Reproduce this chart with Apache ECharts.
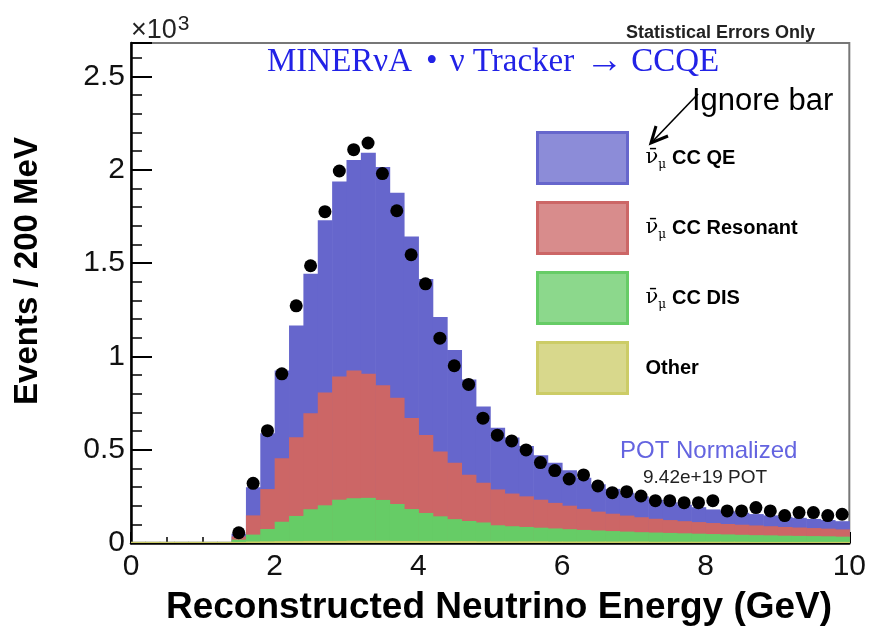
<!DOCTYPE html>
<html><head><meta charset="utf-8">
<script src="https://cdn.jsdelivr.net/npm/echarts@6/dist/echarts.min.js"></script>
<style>html,body{margin:0;padding:0;background:#fff}#c{width:869px;height:632px}</style>
</head><body><div id="c"></div>
<script>
// ---- data (Events / 200 MeV) ----
const binEdges = [0,0.2,0.4,0.6,0.8,1.0,1.2,1.4,1.6,1.8,2.0,2.2,2.4,2.6,2.8,3.0,3.2,3.4,3.6,3.8,4.0,4.2,4.4,4.6,4.8,5.0,5.2,5.4,5.6,5.8,6.0,6.2,6.4,6.6,6.8,7.0,7.2,7.4,7.6,7.8,8.0,8.2,8.4,8.6,8.8,9.0,9.2,9.4,9.6,9.8,10.0];
const qe = [0,0,0,0,0,0,0,15,151,299,471,599,747,923,1046,1129,1185,1171,1100,973,836,722,604,510,408,331,300,270,238,215,190,167,147,133,123,112,102,95,88,80,73,68,64,61,58,55,52,49,46,44];
const resonant = [0,0,0,0,0,0,0,17,103,214,340,422,515,605,660,684,665,614,569,488,418,347,302,248,213,192,175,164,150,137,126,113,101,93,86,80,74,69,65,62,59,56,54,52,49,47,45,43,41,39];
const dis = [0,0,0,0,0,0,0,12,37,66,104,135,170,191,221,228,230,219,198,171,151,133,118,108,101,86,81,77,73,70,66,62,59,56,53,50,49,47,45,43,41,39,37,36,35,33,32,31,30,28];
const other = [6,6,6,6,6,6,6,6,8,9,10,10,11,11,11,12,12,12,11,11,10,10,10,10,9,9,9,9,9,8,8,8,8,8,8,8,7,7,7,7,7,7,7,6,6,6,6,6,6,6];
const dataX = [1.5,1.7,1.9,2.1,2.3,2.5,2.7,2.9,3.1,3.3,3.5,3.7,3.9,4.1,4.3,4.5,4.7,4.9,5.1,5.3,5.5,5.7,5.9,6.1,6.3,6.5,6.7,6.9,7.1,7.3,7.5,7.7,7.9,8.1,8.3,8.5,8.7,8.9,9.1,9.3,9.5,9.7,9.9];
const dataY = [55,320,602,907,1271,1486,1776,1994,2108,2144,1980,1781,1545,1389,1098,950,850,669,578,547,499,431,388,343,365,306,270,275,252,227,227,216,216,227,172,172,190,172,147,163,163,147,154];
const seriesNames = ['CC QE','CC Resonant','CC DIS','Other'];
const seriesColors = ['#6666cc','#cc6666','#66cc66','#cccc66'];
const xTickLabels = ['0','2','4','6','8','10'];
const yTickLabels = ['0','0.5','1','1.5','2','2.5'];

// stacking order bottom -> top: other, dis, resonant, qe
const comps = [other, dis, resonant, qe];
const compNames = ['Other','CC DIS','CC Resonant','CC QE'];
const compColors = ['#cccc66','#66cc66','#cc6666','#6666cc'];

function cumulativeData(k) {
  const out = [];
  for (let i = 0; i < binEdges.length - 1; i++) {
    let top = 0;
    for (let j = 0; j <= k; j++) top += comps[j][i];
    out.push([binEdges[i], binEdges[i + 1], 0, top]);
  }
  return out;
}

function makePattern(color) {
  const c = document.createElement('canvas');
  c.width = 2; c.height = 2;
  const g = c.getContext('2d');
  g.fillStyle = color; g.fillRect(0, 0, 2, 2);
  g.fillStyle = '#ffffff'; g.fillRect(1, 0, 1, 1);
  return { image: c, repeat: 'repeat' };
}

const chart = echarts.init(document.getElementById('c'), null, { renderer: 'canvas' });

const histSeries = [];
for (let k = comps.length - 1; k >= 0; k--) {
  const color = compColors[k];
  histSeries.push({
    type: 'custom',
    name: compNames[k],
    coordinateSystem: 'cartesian2d',
    z: 2 + (comps.length - k),
    itemStyle: { color: color },
    encode: { x: [0, 1], y: [2, 3] },
    data: cumulativeData(k),
    renderItem: function (params, api) {
      const top = api.value(3);
      if (top <= 0) return null;
      const p0 = api.coord([api.value(0), top]);
      const p1 = api.coord([api.value(1), 0]);
      return {
        type: 'rect',
        shape: { x: p0[0], y: p0[1], width: p1[0] - p0[0] + 0.6, height: p1[1] - p0[1] },
        style: { fill: color }
      };
    }
  });
}

const sans = '"Liberation Sans", Arial, sans-serif';
const serif = '"Liberation Serif", "DejaVu Serif", serif';

const option = {
  animation: false,
  backgroundColor: '#ffffff',
  grid: { left: 131, right: 17, top: 43, bottom: 89, show: true, borderColor: '#777', borderWidth: 2, backgroundColor: 'transparent' },
  xAxis: {
    type: 'value', min: 0, max: 10, interval: 2,
    axisLine: { show: true, onZero: false, lineStyle: { color: '#000', width: 2.5 } },
    axisTick: { show: true, inside: true, length: 11, lineStyle: { color: '#000', width: 2 } },
    minorTick: { show: true, splitNumber: 4, length: 6, lineStyle: { color: '#000', width: 1.5 } },
    axisLabel: { fontSize: 30, color: '#111', margin: 9, fontFamily: sans,
      formatter: v => xTickLabels[Math.round(v / 2)] },
    splitLine: { show: false }, minorSplitLine: { show: false }
  },
  yAxis: [
    {
      type: 'value', min: 0, max: 2680, interval: 500, position: 'left',
      axisLine: { show: true, onZero: false, lineStyle: { color: '#000', width: 2.5 } },
      axisTick: { show: true, inside: true, length: 21, lineStyle: { color: '#000', width: 2 } },
      axisLabel: { fontSize: 30, color: '#111', margin: 6, fontFamily: sans,
        formatter: v => (v % 500 === 0 ? yTickLabels[v / 500] : '') },
      splitLine: { show: false }
    },
    {
      type: 'value', min: 0, max: 2680, interval: 100, position: 'left', offset: 0,
      axisLine: { show: false },
      axisTick: { show: true, inside: true, length: 11, lineStyle: { color: '#000', width: 1.5 } },
      axisLabel: { show: false },
      splitLine: { show: false }
    }
  ],
  legend: {
    orient: 'vertical', left: 536, top: 131, padding: 0,
    itemWidth: 90, itemHeight: 51, itemGap: 16,
    icon: 'rect',
    data: seriesNames.map((n, i) => ({
      name: n,
      itemStyle: { color: makePattern(seriesColors[i]), borderColor: seriesColors[i], borderWidth: 3 }
    })),
    formatter: function (name) {
      if (name === 'Other') return '{o|Other}';
      return '{nu|\u03BD\u0304}{mu|\u03BC}{t|' + name + '}';
    },
    textStyle: {
      color: '#000', lineHeight: 30,
      rich: {
        nu: { fontFamily: '"DejaVu Serif", "Liberation Serif", serif', fontSize: 21, color: '#000', padding: [0, 0, 0, 13] },
        mu: { fontFamily: '"DejaVu Serif", "Liberation Serif", serif', fontSize: 12, color: '#000', padding: [14, 0, 0, 0] },
        t: { fontFamily: sans, fontWeight: 'bold', fontSize: 20, color: '#000', padding: [0, 0, 0, 6] },
        o: { fontFamily: sans, fontWeight: 'bold', fontSize: 20, color: '#000', padding: [0, 0, 0, 13] }
      }
    },
    selectedMode: false
  },
  graphic: [
    { type: 'text', x: 28, y: 271, rotation: Math.PI / 2, z: 50,
      style: { text: 'Events / 200 MeV', fontFamily: sans, fontWeight: 'bold', fontSize: 33, fill: '#000', align: 'center', verticalAlign: 'middle' } },
    { type: 'text', x: 499, y: 608, z: 50,
      style: { text: 'Reconstructed Neutrino Energy (GeV)', fontFamily: sans, fontWeight: 'bold', fontSize: 37, fill: '#000', align: 'center', verticalAlign: 'middle' } },
    { type: 'text', x: 131, y: 31, z: 50,
      style: { text: '{a|\u00D710}{b|3}', align: 'left', verticalAlign: 'middle',
        rich: { a: { fontFamily: sans, fontSize: 27, fill: '#222' }, b: { fontFamily: sans, fontSize: 21, fill: '#222', padding: [0, 0, 13, 1] } } } },
    { type: 'text', x: 267, y: 62, z: 50,
      style: { text: '{a|MINER\u03BDA}{b|\u2022}{a|\u03BD Tracker}{c|\u2192}{a|CCQE}', align: 'left', verticalAlign: 'middle',
        rich: {
          a: { fontFamily: serif, fontSize: 33, fill: '#2222e6' },
          b: { fontFamily: serif, fontSize: 33, fill: '#2222e6', padding: [0, 12, 0, 14] },
          c: { fontFamily: serif, fontSize: 38, fill: '#2222e6', padding: [0, 8, 0, 11] }
        } } },
    { type: 'text', x: 815, y: 33, z: 50,
      style: { text: 'Statistical Errors Only', fontFamily: sans, fontWeight: 'bold', fontSize: 18, fill: '#222', align: 'right', verticalAlign: 'middle' } },
    { type: 'text', x: 620, y: 451, z: 50,
      style: { text: 'POT Normalized', fontFamily: sans, fontSize: 24, fill: '#6464e0', align: 'left', verticalAlign: 'middle' } },
    { type: 'text', x: 643, y: 478, z: 50,
      style: { text: '9.42e+19 POT', fontFamily: sans, fontSize: 19, fill: '#222', align: 'left', verticalAlign: 'middle' } },
    { type: 'text', x: 692, y: 101, z: 50,
      style: { text: 'Ignore bar', fontFamily: sans, fontSize: 31, fill: '#000', align: 'left', verticalAlign: 'middle' } },
    { type: 'line', z: 51, shape: { x1: 698, y1: 94, x2: 652, y2: 142 }, style: { stroke: '#000', lineWidth: 1.6 } },
    { type: 'polyline', z: 51, shape: { points: [[668, 136], [651, 143], [656, 126]] }, style: { stroke: '#000', lineWidth: 3, fill: null, lineJoin: 'miter' } }
  ],
  series: histSeries.concat([
    {
      type: 'scatter', name: 'Data', z: 20,
      symbol: 'circle', symbolSize: 13,
      itemStyle: { color: '#000', opacity: 1 },
      data: dataX.map((x, i) => [x, dataY[i]])
    }
  ])
};
chart.setOption(option);
</script>
</body></html>
